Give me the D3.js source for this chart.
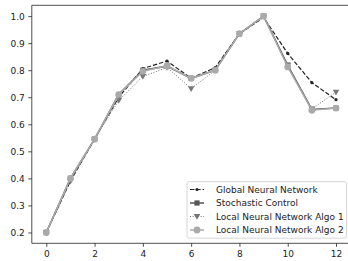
<!DOCTYPE html>
<html>
<head>
<meta charset="utf-8">
<script src="https://d3js.org/d3.v7.min.js"></script>
<style>
  body { margin: 0; background: #fff; }
  text { font-family: "DejaVu Sans", sans-serif; }
</style>
</head>
<body>
<div id="chart"></div>
<script>
// values
var steps = [0, 1, 2, 3, 4, 5, 6, 7, 8, 9, 10, 11, 12];
var globalNN = [0.20, 0.39, 0.545, 0.70, 0.806, 0.834, 0.77, 0.81, 0.935, 0.995, 0.862, 0.754, 0.691];
var stochastic = [0.20, 0.40, 0.545, 0.71, 0.80, 0.815, 0.77, 0.80, 0.935, 1.0, 0.818, 0.655, 0.66];
var localAlgo1 = [0.20, 0.39, 0.545, 0.688, 0.777, 0.81, 0.732, 0.80, 0.935, 1.0, 0.82, 0.657, 0.719];
var localAlgo2 = [0.20, 0.40, 0.545, 0.71, 0.796, 0.816, 0.77, 0.80, 0.935, 1.0, 0.812, 0.652, 0.66];
var xTicks = [0, 2, 4, 6, 8, 10, 12];
var yTicks = [0.2, 0.3, 0.4, 0.5, 0.6, 0.7, 0.8, 0.9, 1.0];

var w = 348,
    h = 261,
    padLeft = 31.8,
    padTop = 5.3,
    axisBottom = 243.3;

var xScale = d3.scaleLinear().domain([-0.6, 12.6]).range([padLeft, 350.5]);
var yScale = d3.scaleLinear().domain([0.16, 1.04]).range([axisBottom, padTop]);

var svg = d3.select("#chart")
    .append("svg")
    .attr("width", w)
    .attr("height", h);

var series = [
    {name: "Global Neural Network", values: globalNN, color: "#222", width: 1.2, dash: "4.4,1.9", marker: "dot"},
    {name: "Stochastic Control", values: stochastic, color: "#555", width: 1.5, dash: null, marker: "square"},
    {name: "Local Neural Network Algo 1", values: localAlgo1, color: "#777", width: 1, dash: "1,1.65", marker: "tri"},
    {name: "Local Neural Network Algo 2", values: localAlgo2, color: "#aaa", width: 1.5, dash: null, marker: "circle"}
];

function drawMarker(g, type, color) {
    if (type == "dot") {
        g.append("circle").attr("r", 1.6).attr("fill", color);
    } else if (type == "square") {
        g.append("rect").attr("x", -2.6).attr("y", -2.6).attr("width", 5.2).attr("height", 5.2).attr("fill", color);
    } else if (type == "tri") {
        g.append("path").attr("d", "M-3.3,-2.4L3.3,-2.4L0,3.3Z").attr("fill", color);
    } else {
        g.append("circle").attr("r", 3.4).attr("fill", color);
    }
}

var line = d3.line()
    .x(function (d, i) { return xScale(steps[i]); })
    .y(function (d) { return yScale(d); });

series.forEach(function (s) {
    svg.append("path")
        .datum(s.values)
        .attr("d", line)
        .attr("fill", "none")
        .attr("stroke", s.color)
        .attr("stroke-width", s.width)
        .attr("stroke-dasharray", s.dash);
    s.values.forEach(function (v, i) {
        var g = svg.append("g").attr("transform", "translate(" + xScale(steps[i]) + "," + yScale(v) + ")");
        drawMarker(g, s.marker, s.color);
    });
});

// axes
var xAxis = d3.axisBottom(xScale).tickValues(xTicks).tickSize(3.5).tickPadding(3.5).tickFormat(d3.format("d"));
var yAxis = d3.axisLeft(yScale).tickValues(yTicks).tickSize(3.5).tickPadding(3.5).tickFormat(d3.format(".1f"));

svg.append("g")
    .attr("class", "axis")
    .attr("transform", "translate(0," + axisBottom + ")")
    .call(xAxis);
svg.append("g")
    .attr("class", "axis")
    .attr("transform", "translate(" + padLeft + ",0)")
    .call(yAxis);

svg.selectAll(".axis .domain").remove();
svg.selectAll(".axis text").attr("font-size", "9px").attr("fill", "#222");
svg.selectAll(".axis line").attr("stroke", "#222").attr("stroke-width", 0.8);

// spines (no right spine, cropped out)
svg.append("line").attr("x1", padLeft).attr("x2", padLeft).attr("y1", padTop).attr("y2", axisBottom)
    .attr("stroke", "#222").attr("stroke-width", 0.8);
svg.append("line").attr("x1", padLeft).attr("x2", w).attr("y1", padTop).attr("y2", padTop)
    .attr("stroke", "#222").attr("stroke-width", 0.8);
svg.append("line").attr("x1", padLeft).attr("x2", w).attr("y1", axisBottom).attr("y2", axisBottom)
    .attr("stroke", "#222").attr("stroke-width", 0.8);

// legend
var legend = svg.append("g").attr("transform", "translate(187,181.7)");
legend.append("rect")
    .attr("width", 159.5)
    .attr("height", 56.5)
    .attr("rx", 2)
    .attr("fill", "#fff")
    .attr("fill-opacity", 0.8)
    .attr("stroke", "#ccc")
    .attr("stroke-width", 0.8);

series.forEach(function (s, i) {
    var y = 7.8 + i * 13.5;
    legend.append("line")
        .attr("x1", 3).attr("x2", 17)
        .attr("y1", y).attr("y2", y)
        .attr("stroke", s.color)
        .attr("stroke-width", s.width)
        .attr("stroke-dasharray", s.dash);
    var g = legend.append("g").attr("transform", "translate(10," + y + ")");
    drawMarker(g, s.marker, s.color);
    legend.append("text")
        .attr("x", 29)
        .attr("y", y)
        .attr("dy", "0.35em")
        .attr("font-size", "9px")
        .attr("fill", "#222")
        .text(s.name);
});
</script>
</body>
</html>
